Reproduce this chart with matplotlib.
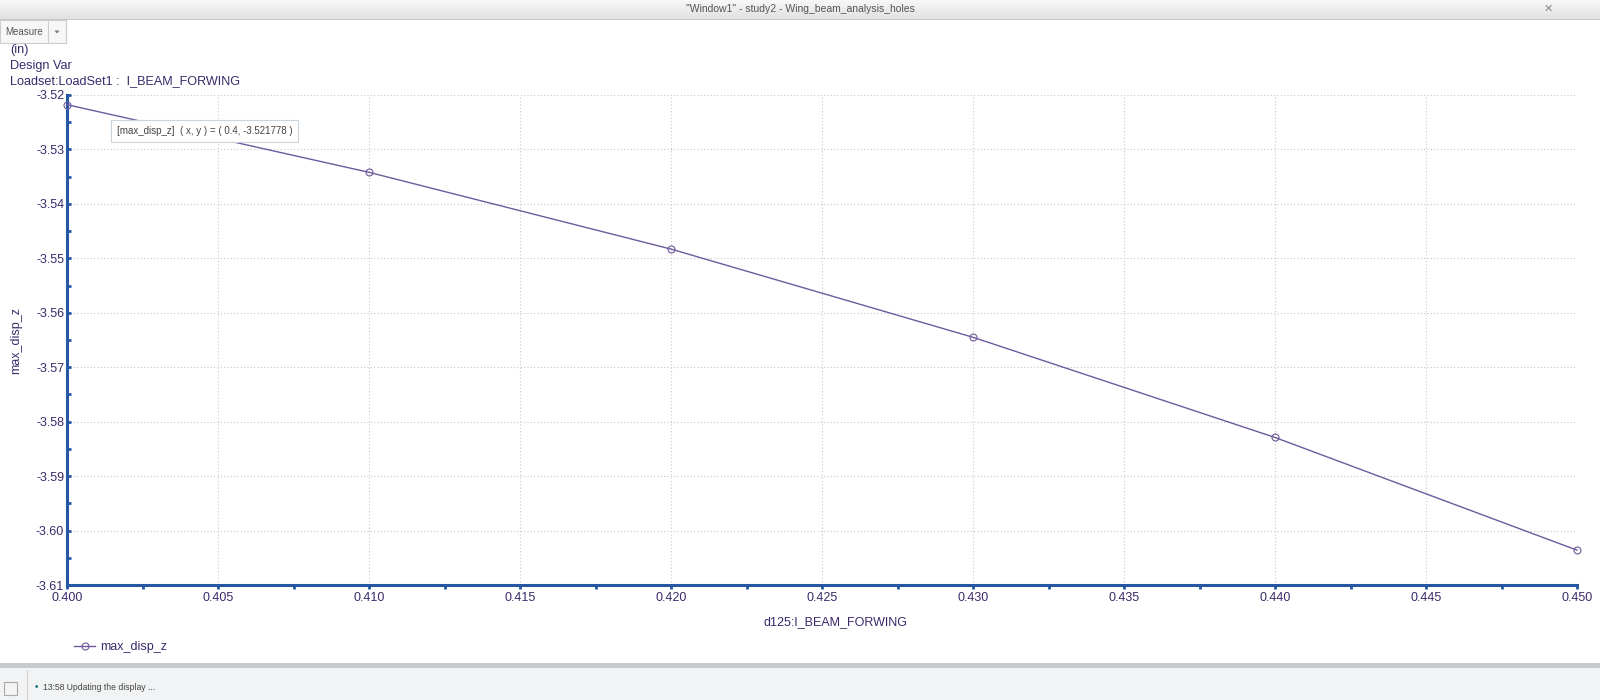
import matplotlib.pyplot as plt
import numpy as np
from matplotlib.patches import Rectangle, Polygon
from matplotlib.ticker import MultipleLocator, FormatStrFormatter

# data
d125 = [0.40, 0.41, 0.42, 0.43, 0.44, 0.45]
max_disp_z = [-3.521778, -3.5342, -3.5483, -3.5645, -3.5829, -3.6036]

window_title = '"Window1" - study2 - Wing_beam_analysis_holes'
header_lines = ["(in)", "Design Var", "Loadset:LoadSet1 :  I_BEAM_FORWING"]
tooltip = "[max_disp_z]  ( x, y ) = ( 0.4, -3.521778 )"
status_msg = "13:58 Updating the display ..."

W, H = 1600, 700
txt_col = "#3b2a6b"
axis_col = "#2557a3"
line_col = "#6e5a9c"

plt.rcParams["font.family"] = ["Liberation Sans", "DejaVu Sans"]

fig = plt.figure(figsize=(16, 7), dpi=100)
fig.patch.set_facecolor("white")


def px(x, y):
    # pixel (from top-left) -> figure fraction
    return x / W, 1 - y / H


# window title bar with a soft gradient
tb = fig.add_axes([0, 1 - 19 / H, 1, 19 / H])
tb.imshow(np.linspace(0.97, 0.88, 30).reshape(-1, 1), cmap="gray", vmin=0, vmax=1,
          aspect="auto", extent=[0, 1, 0, 1])
tb.set_axis_off()
fig.text(*px(800, 9), window_title, ha="center", va="center", fontsize=7.5, color="#555555")
fig.text(*px(1548, 9), "\u2715", ha="center", va="center", fontsize=8, color="#888888")
fig.add_artist(Rectangle((0, 1 - 20 / H), 1, 1 / H, transform=fig.transFigure,
                         color="#c8c8c8", lw=0))

# "Measure" dropdown button
fig.add_artist(Rectangle(px(0, 43), 48 / W, 23 / H, transform=fig.transFigure,
                         facecolor="#f7f7f7", edgecolor="#cccccc", lw=0.8))
fig.add_artist(Rectangle(px(48, 43), 18 / W, 23 / H, transform=fig.transFigure,
                         facecolor="#f7f7f7", edgecolor="#cccccc", lw=0.8))
fig.text(*px(24, 32), "Measure", ha="center", va="center", fontsize=7, color="#555555")
fig.add_artist(Polygon([px(54.5, 30.5), px(59.5, 30.5), px(57, 33.5)], closed=True,
                       transform=fig.transFigure, color="#777777", lw=0))

# header text
for i, line in enumerate(header_lines):
    fig.text(*px(10, 50 + i * 15.5), line, ha="left", va="center", fontsize=9.1, color=txt_col)

# main plot
ax = fig.add_axes([67 / W, 1 - 585 / H, 1510 / W, 490 / H])
ax.plot(d125, max_disp_z, color=line_col, lw=1.0, marker="o", markersize=5,
        markerfacecolor="none", markeredgecolor=line_col, markeredgewidth=0.8,
        label="max_disp_z", clip_on=False, zorder=3)
ax.set_xlim(0.40, 0.45)
ax.set_ylim(-3.61, -3.52)
ax.xaxis.set_major_locator(MultipleLocator(0.005))
ax.xaxis.set_minor_locator(MultipleLocator(0.0025))
ax.yaxis.set_major_locator(MultipleLocator(0.01))
ax.yaxis.set_minor_locator(MultipleLocator(0.005))
ax.xaxis.set_major_formatter(FormatStrFormatter("%.3f"))
ax.yaxis.set_major_formatter(FormatStrFormatter("%.2f"))
ax.grid(True, which="major", color="#c8c8c8", linestyle=(0, (1, 2)), lw=0.8)

for side in ["top", "right"]:
    ax.spines[side].set_visible(False)
for side in ["left", "bottom"]:
    ax.spines[side].set_color(axis_col)
    ax.spines[side].set_linewidth(2.2)

ax.tick_params(which="both", color=axis_col, width=2, labelcolor=txt_col, labelsize=9)
ax.tick_params(axis="x", which="both", direction="out", length=3, pad=2)
ax.tick_params(axis="y", which="both", direction="in", length=3, pad=2)

ax.set_xlabel("d125:I_BEAM_FORWING", fontsize=9, color=txt_col)
ax.xaxis.set_label_coords(0.509, -0.063)
ax.set_ylabel("max_disp_z", fontsize=9, color=txt_col)
ax.yaxis.set_label_coords(-0.0295, 0.5)

# hover tooltip
fig.text(*px(117, 131), tooltip, ha="left", va="center", fontsize=7.0, color="#444444",
         bbox=dict(boxstyle="square,pad=0.6", facecolor="white", edgecolor="#c9d4dd", lw=0.8))

# legend below plot
leg = ax.legend(loc="center left", bbox_to_anchor=px(74, 647), bbox_transform=fig.transFigure,
                frameon=False, fontsize=9, handlelength=1.7, handletextpad=0.4,
                borderaxespad=0, borderpad=0)
for t in leg.get_texts():
    t.set_color(txt_col)

# status bar at the bottom
fig.add_artist(Rectangle(px(0, 668), 1, 5 / H, transform=fig.transFigure,
                         color="#c5cbcf", lw=0))
fig.add_artist(Rectangle((0, 0), 1, 32 / H, transform=fig.transFigure,
                         color="#f1f3f4", lw=0))
fig.add_artist(Rectangle(px(4, 695), 13 / W, 13 / H, transform=fig.transFigure,
                         facecolor="#f4f4f4", edgecolor="#aaaaaa", lw=0.8))
fig.add_artist(Rectangle(px(27, 700), 1 / W, 30 / H, transform=fig.transFigure,
                         color="#d0d0d0", lw=0))
fig.text(*px(35, 687), "\u2022", ha="left", va="center", fontsize=7, color="#1d6f7a")
fig.text(*px(43, 688), status_msg, ha="left", va="center", fontsize=6.2, color="#444444")

fig.savefig("out.png", dpi=100)
